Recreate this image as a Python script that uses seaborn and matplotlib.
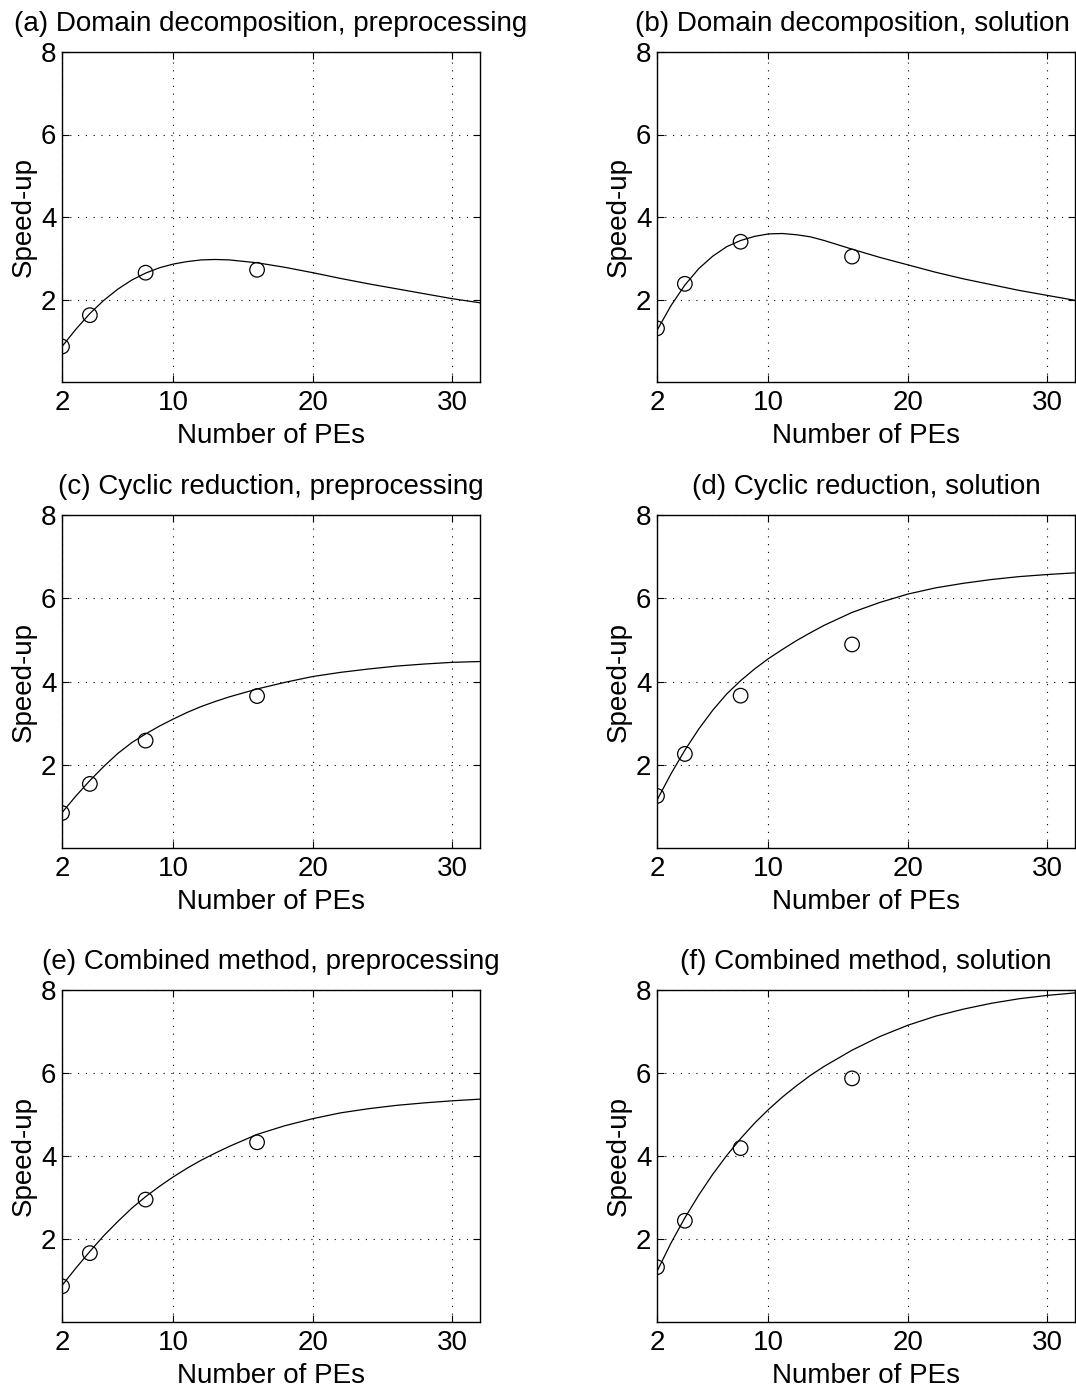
import matplotlib
matplotlib.use("Agg")
import matplotlib.pyplot as plt
import seaborn as sns
import pandas as pd

# ---- data ----
pes = [2, 4, 8, 16]

meas_a = [0.86, 1.62, 2.65, 2.72]
meas_b = [1.30, 2.38, 3.40, 3.04]
meas_c = [0.84, 1.54, 2.58, 3.65]
meas_d = [1.25, 2.26, 3.66, 4.89]
meas_e = [0.86, 1.66, 2.95, 4.33]
meas_f = [1.32, 2.44, 4.19, 5.87]

curve_x = [2, 3, 4, 5, 6, 7, 8, 9, 10, 11, 12, 13, 14, 16, 18, 20, 22, 24, 26, 28, 30, 32]
curve_a = [0.86, 1.28, 1.66, 1.98, 2.25, 2.47, 2.64, 2.77, 2.86, 2.92, 2.96, 2.97, 2.96, 2.89, 2.78, 2.65, 2.51, 2.38, 2.26, 2.14, 2.02, 1.92]
curve_b = [1.25, 1.85, 2.35, 2.75, 3.05, 3.28, 3.43, 3.53, 3.59, 3.60, 3.57, 3.52, 3.43, 3.22, 3.02, 2.84, 2.66, 2.50, 2.36, 2.22, 2.10, 1.98]
curve_c = [0.85, 1.25, 1.62, 1.96, 2.27, 2.53, 2.74, 2.93, 3.10, 3.26, 3.40, 3.52, 3.63, 3.82, 3.98, 4.12, 4.22, 4.30, 4.37, 4.42, 4.46, 4.48]
curve_d = [1.15, 1.78, 2.35, 2.86, 3.31, 3.70, 4.02, 4.30, 4.55, 4.77, 4.98, 5.17, 5.35, 5.66, 5.90, 6.10, 6.25, 6.36, 6.45, 6.52, 6.57, 6.61]
curve_e = [0.88, 1.30, 1.70, 2.08, 2.42, 2.74, 3.02, 3.27, 3.50, 3.71, 3.90, 4.07, 4.23, 4.52, 4.73, 4.90, 5.04, 5.14, 5.22, 5.28, 5.33, 5.37]
curve_f = [1.22, 1.90, 2.51, 3.06, 3.56, 4.01, 4.42, 4.79, 5.12, 5.42, 5.69, 5.94, 6.16, 6.55, 6.88, 7.15, 7.37, 7.54, 7.68, 7.79, 7.87, 7.93]

titles = [
    "(a) Domain decomposition, preprocessing",
    "(b) Domain decomposition, solution",
    "(c) Cyclic reduction, preprocessing",
    "(d) Cyclic reduction, solution",
    "(e) Combined method, preprocessing",
    "(f) Combined method, solution",
]
xticks = [2, 10, 20, 30]
yticks = [2, 4, 6, 8]
xlabel = "Number of PEs"
ylabel = "Speed-up"

measured = [meas_a, meas_b, meas_c, meas_d, meas_e, meas_f]
curves = [curve_a, curve_b, curve_c, curve_d, curve_e, curve_f]

# ---- style ----
sns.set_theme(style="white")
plt.rcParams["font.family"] = ["Liberation Sans", "DejaVu Sans"]
FS = 20
plt.rcParams["font.size"] = FS
for k in ["text.color", "axes.labelcolor", "xtick.color", "ytick.color"]:
    plt.rcParams[k] = "black"

W, H = 1076, 1389
fig = plt.figure(figsize=(W / 100, H / 100), dpi=100)

col_left = [62, 657]
row_tb = [(52, 382), (515, 848), (990, 1322)]
axw = 418
title_x = [0.5, 0.467, 0.5, 0.5, 0.5, 0.5]

for i in range(6):
    r, c = divmod(i, 2)
    top, bot = row_tb[r]
    ax = fig.add_axes([col_left[c] / W, 1 - bot / H, axw / W, (bot - top) / H])

    dfc = pd.DataFrame({"x": curve_x, "y": curves[i]})
    dfm = pd.DataFrame({"x": pes, "y": measured[i]})
    sns.lineplot(data=dfc, x="x", y="y", ax=ax, color="black", linewidth=0.9,
                 sort=False, estimator=None)
    sns.scatterplot(data=dfm, x="x", y="y", ax=ax, marker="o", s=110,
                    facecolor="none", edgecolor="black", linewidth=0.9, zorder=3)

    ax.set_xlim(2, 32)
    ax.set_ylim(0, 8)
    ax.set_xticks(xticks)
    ax.set_yticks(yticks)
    ax.set_xticklabels([str(t) for t in xticks], fontsize=FS)
    ax.set_yticklabels([str(t) for t in yticks], fontsize=FS)
    ax.grid(True, linestyle=(0, (1, 6)), color="black", linewidth=0.8)
    ax.tick_params(direction="in", length=5, width=0.8, top=True, right=True,
                   bottom=True, left=True, colors="black", labelsize=FS)
    ax.tick_params(axis="x", pad=6)
    ax.tick_params(axis="y", pad=4)
    for sp in ax.spines.values():
        sp.set_visible(True)
        sp.set_color("black")
        sp.set_linewidth(1.0)
    ax.set_xlabel(xlabel, fontsize=FS, labelpad=5)
    ax.set_ylabel(ylabel, fontsize=FS, labelpad=3)
    ax.set_title(titles[i], fontsize=FS, pad=15, x=title_x[i])
    ax.set_facecolor("white")

fig.patch.set_facecolor("white")
fig.savefig("out.png", dpi=100, facecolor="white")
